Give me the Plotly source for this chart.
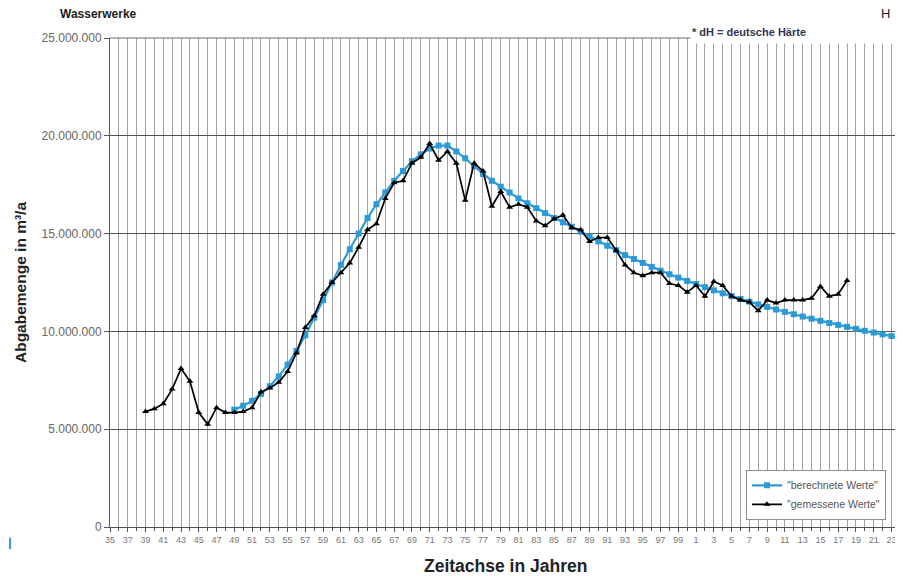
import plotly.graph_objects as go

# berechnete Werte (calculated), 1949-2024
calc_years = list(range(1949, 2025))
calc_values = [
    6.0, 6.2, 6.45, 6.8, 7.2, 7.7, 8.3, 9.0, 9.8, 10.7,
    11.6, 12.5, 13.4, 14.2, 15.0, 15.8, 16.5, 17.1, 17.7, 18.2,
    18.7, 19.05, 19.35, 19.5, 19.5, 19.2, 18.85, 18.45, 18.05, 17.7,
    17.4, 17.1, 16.8, 16.55, 16.3, 16.05, 15.8, 15.58, 15.35, 15.1,
    14.85, 14.6, 14.38, 14.15, 13.9, 13.7, 13.5, 13.3, 13.1, 12.92,
    12.75, 12.58, 12.42, 12.26, 12.1, 11.95, 11.8, 11.66, 11.52, 11.38,
    11.25, 11.12, 11.0, 10.88, 10.76, 10.65, 10.54, 10.43, 10.33, 10.23,
    10.13, 10.03, 9.94, 9.85, 9.76, 9.67,
]

# gemessene Werte (measured), 1939-2018
meas_years = list(range(1939, 2019))
meas_values = [
    5.9, 6.05, 6.3, 7.05, 8.1, 7.45, 5.85, 5.25, 6.1, 5.85,
    5.85, 5.9, 6.1, 6.9, 7.1, 7.4, 7.95, 8.9, 10.2, 10.8,
    11.9, 12.5, 13.0, 13.5, 14.3, 15.2, 15.5, 16.8, 17.6, 17.7,
    18.6, 18.9, 19.6, 18.75, 19.2, 18.6, 16.7, 18.6, 18.2, 16.4,
    17.15, 16.35, 16.5, 16.35, 15.65, 15.4, 15.75, 15.95, 15.3, 15.2,
    14.6, 14.8, 14.8, 14.15, 13.4, 13.0, 12.85, 13.0, 13.0, 12.45,
    12.35, 12.0, 12.35, 11.8, 12.55, 12.35, 11.8, 11.6, 11.5, 11.05,
    11.6, 11.45, 11.6, 11.6, 11.6, 11.7, 12.3, 11.8, 11.9, 12.6,
]

tick_years = list(range(1935, 2024, 2))
tick_text = [f"{y % 100:02d}" if y < 2000 else str(y % 100) for y in tick_years]

y_ticks = [0, 5e6, 10e6, 15e6, 20e6, 25e6]

fig = go.Figure()

fig.add_trace(go.Scatter(
    x=calc_years, y=[v * 1e6 for v in calc_values],
    mode='lines+markers', name='"berechnete Werte"',
    line=dict(color='#2b9ad6', width=2.2),
    marker=dict(symbol='square', size=6, color='#2b9ad6'),
))
fig.add_trace(go.Scatter(
    x=meas_years, y=[v * 1e6 for v in meas_values],
    mode='lines+markers', name='"gemessene Werte"',
    line=dict(color='#000000', width=1.7),
    marker=dict(symbol='triangle-up', size=6, color='#000000'),
))

# page body has an 8px margin, so the figure is sized to end at the window edge
fig.update_layout(
    width=895, height=568,
    margin=dict(l=102, r=0, t=30, b=49, autoexpand=False),
    paper_bgcolor='white', plot_bgcolor='white',
    font=dict(family='Liberation Sans, Arial, sans-serif', color='#333333'),
    separators=',.',
    showlegend=True,
    legend=dict(
        x=0.802, y=0.117, xanchor='left', yanchor='top',
        bgcolor='white', bordercolor='#8c8c8c', borderwidth=1,
        font=dict(size=10.5, color='#555555'),
        tracegroupgap=0, itemwidth=30,
    ),
    xaxis=dict(
        range=[1935, 2024.3], automargin=False,
        tickmode='array', tickvals=tick_years, ticktext=tick_text,
        tickfont=dict(size=9, color='#777777'),
        showgrid=True, gridcolor='#a0a0a0', gridwidth=1,
        minor=dict(dtick=1, tick0=1935, showgrid=True, gridcolor='#a0a0a0',
                   ticks='outside', ticklen=3, tickcolor='#555555'),
        ticks='outside', ticklen=4, tickcolor='#555555',
        showline=True, linecolor='#555555', linewidth=1,
        zeroline=False,
    ),
    yaxis=dict(
        range=[0, 25e6], automargin=False,
        tickvals=y_ticks, tickformat=',d',
        tickfont=dict(size=12, color='#666666'),
        showgrid=True, gridcolor='#555555', gridwidth=1,
        ticks='outside', ticklen=5, tickcolor='#555555',
        showline=True, linecolor='#555555', linewidth=1,
        zeroline=False,
    ),
)

# top border of the plot area
fig.add_shape(type='line', xref='paper', yref='paper', x0=0, x1=1, y0=1, y1=1,
              line=dict(color='#666666', width=1))

# axis titles
fig.add_annotation(
    text='<b>Zeitachse in Jahren</b>', xref='paper', yref='paper',
    x=0.4985, y=-0.08, xanchor='center', yanchor='middle', showarrow=False,
    font=dict(size=17.5, color='#222222'),
)
fig.add_annotation(
    text='<b>Abgabemenge in m³/a</b>', xref='paper', yref='paper',
    x=-0.1135, y=0.501, xanchor='center', yanchor='middle', showarrow=False,
    textangle=-90, font=dict(size=15.5, color='#222222'),
)

fig.add_annotation(
    text='<b>Wasserwerke</b>', xref='paper', yref='paper',
    x=-0.065, y=1.049, xanchor='left', yanchor='middle', showarrow=False,
    font=dict(size=12, color='#222222'),
)
fig.add_annotation(
    text='<b>* dH = deutsche Härte</b>', xref='paper', yref='paper',
    x=0.731, y=1.012, xanchor='left', yanchor='middle', showarrow=False,
    font=dict(size=11, color='#333355'), bgcolor='white',
    width=240, align='left', height=20, valign='middle',
)
fig.add_annotation(
    text='H', xref='paper', yref='paper',
    x=0.986, y=1.05, xanchor='right', yanchor='middle', showarrow=False,
    font=dict(size=13, color='#222222'),
)
# small blue mark at bottom left
fig.add_shape(type='line', xref='paper', yref='paper', x0=-0.126, x1=-0.126,
              y0=-0.022, y1=-0.045, line=dict(color='#2b9ad6', width=2))

fig.write_html("out.html")
